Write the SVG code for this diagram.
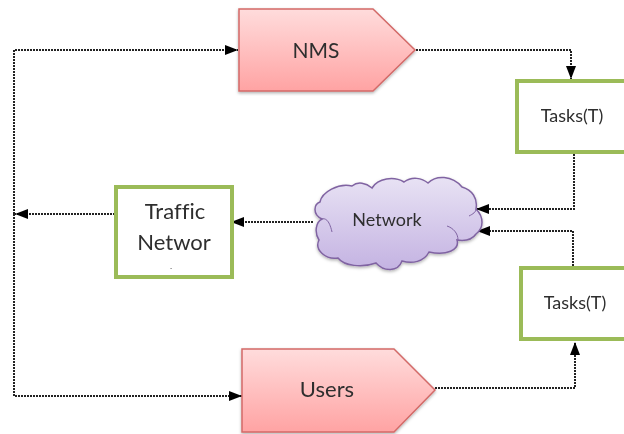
<svg xmlns="http://www.w3.org/2000/svg" width="624" height="434" viewBox="0 0 624 434">
<defs>
<linearGradient id="red" x1="0" y1="0" x2="0" y2="1"><stop offset="0" stop-color="#ffdcdc"/><stop offset="1" stop-color="#ffa3a3"/></linearGradient>
<linearGradient id="pur" x1="0" y1="0" x2="0" y2="1"><stop offset="0" stop-color="#e8e2f4"/><stop offset="1" stop-color="#c4b3e2"/></linearGradient>
<filter id="sh" x="-10%" y="-10%" width="120%" height="125%"><feDropShadow dx="0" dy="1.5" stdDeviation="1.5" flood-color="#000" flood-opacity=".3"/></filter>
<filter id="blur" x="-5%" y="-5%" width="110%" height="110%"><feGaussianBlur stdDeviation=".5"/></filter>
<marker id="arr" markerUnits="userSpaceOnUse" markerWidth="14" markerHeight="10" refX="13" refY="5" orient="auto"><path d="M0 0L13 5L0 10Z" fill="#000"/></marker>
</defs>
<style>
text{font-family:Lato,"Open Sans","Liberation Sans",sans-serif;fill:#2e2e2e;text-anchor:middle;font-variant-ligatures:none}
.pent{fill:url(#red);stroke:#d36a68;stroke-width:1.5;filter:url(#sh)}
.box{fill:#fff;stroke:#9bbb59;stroke-width:4}
.c{fill:none;stroke:#222;stroke-width:2;stroke-dasharray:2 1}
</style>
<rect width="624" height="434" fill="#fff"/>
<g id="connectors" filter="url(#blur)">
<path class="c" d="M14 214V50H238" marker-end="url(#arr)"/>
<path class="c" d="M14 214V396H242" marker-end="url(#arr)"/>
<path class="c" d="M115 214H15" marker-end="url(#arr)"/>
<path class="c" d="M416 50H571V79" marker-end="url(#arr)"/>
<path class="c" d="M574 154V209H476" marker-end="url(#arr)"/>
<path class="c" d="M573 266V231H477" marker-end="url(#arr)"/>
<path class="c" d="M435 388H575V342" marker-end="url(#arr)"/>
<path class="c" d="M313 222H231" marker-end="url(#arr)"/>
</g>
<g id="nms" filter="url(#blur)"><path class="pent" d="M239 9H373L415 50L373 91H239Z"/><text x="316" y="58" font-size="21">NMS</text></g>
<g id="users" filter="url(#blur)"><path class="pent" d="M242 349H394L435 390L394 432H242Z"/><text x="327" y="397" font-size="22">Users</text></g>
<g id="tasks1" filter="url(#blur)"><rect class="box" x="517" y="81" width="115" height="71"/><text x="572" y="122" font-size="18">Tasks(T)</text></g>
<g id="tasks2" filter="url(#blur)"><rect class="box" x="521" y="268" width="115" height="71"/><text x="575" y="309" font-size="18">Tasks(T)</text></g>
<g id="traffic" filter="url(#blur)"><rect class="box" x="116" y="187" width="116" height="90"/><text x="175" y="219" font-size="22">Traffic</text><text x="174" y="250" font-size="22">Networ</text><text x="171" y="270" font-size="6">-</text></g>
<g id="network" filter="url(#blur)"><path d="M320 202C322 192 338 183 352 186C358 181 366 183 372 188C378 178 394 176 404 182C412 176 422 178 428 183C436 175 452 175 462 187C472 190 478 198 476 209C484 217 484 228 476 234C472 240 464 241 457 240C460 250 446 256 429 252C424 262 412 264 402 261C398 272 384 272 376 263C362 268 344 266 338 258C326 260 314 250 319 240C314 232 316 222 322 219C312 214 314 204 320 202Z" fill="url(#pur)" stroke="#8064a2" stroke-width="1.5" filter="url(#sh)"/>
<path d="M447 226C453 228 458 233 458 240M469 216C473 214 476 212 476 209M321 219C325 218 329 219 332 232" fill="none" stroke="#8064a2" stroke-width="1"/>
<text x="387" y="226" font-size="18">Network</text></g>
</svg>
